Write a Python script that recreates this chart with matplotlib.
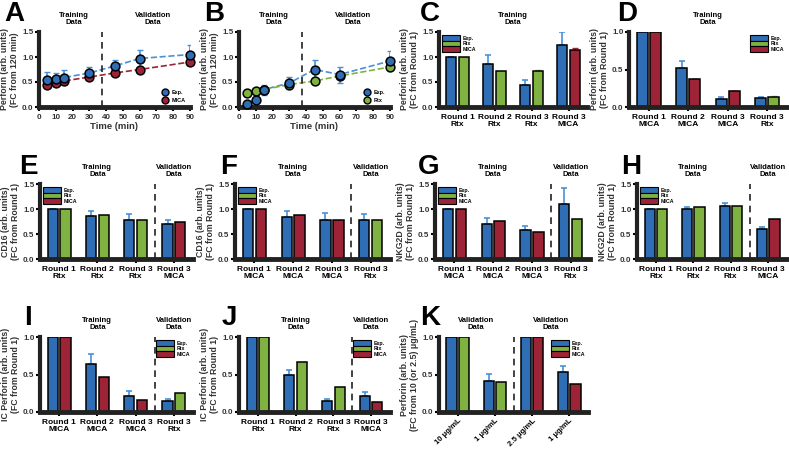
import numpy as np
import matplotlib
matplotlib.use('Agg')
import matplotlib.pyplot as plt
from matplotlib.patches import Patch
from matplotlib.lines import Line2D

plt.rcParams['font.family'] = ['Liberation Sans', 'DejaVu Sans']
plt.rcParams['font.weight'] = 'bold'

BLUE = '#2f6db5'
GREEN = '#7fb241'
RED = '#9d2337'
ERRB = '#4a90d9'
cmap = {'Rtx': GREEN, 'MICA': RED}

# ---------- data ----------
time_pts = [5, 10, 15, 30, 45, 60, 90]
a_exp = [0.55, 0.57, 0.59, 0.68, 0.82, 0.97, 1.05]
a_exp_err = [0.15, 0.12, 0.15, 0.12, 0.13, 0.18, 0.20]
a_mica = [0.45, 0.49, 0.52, 0.60, 0.68, 0.75, 0.90]

b_exp = [0.07, 0.15, 0.35, 0.48, 0.75, 0.65, 0.92]
b_exp_err = [0.0, 0.0, 0.10, 0.12, 0.20, 0.16, 0.20]
b_rtx = [0.28, 0.32, 0.35, 0.45, 0.52, 0.62, 0.80]

c_groups = ['Round 1\nRtx', 'Round 2\nRtx', 'Round 3\nRtx', 'Round 3\nMICA']
c_exp = [1.0, 0.87, 0.45, 1.25]
c_exp_err = [0.0, 0.18, 0.10, 0.25]
c_model = [1.0, 0.73, 0.73, 1.14]
c_model_err = [0.0, 0.0, 0.01, 0.05]
c_stim = ['Rtx', 'Rtx', 'Rtx', 'MICA']

d_groups = ['Round 1\nMICA', 'Round 2\nMICA', 'Round 3\nMICA', 'Round 3\nRtx']
d_exp = [1.0, 0.52, 0.11, 0.12]
d_exp_err = [0.0, 0.10, 0.02, 0.02]
d_model = [1.0, 0.37, 0.21, 0.14]
d_model_err = [0.0, 0.01, 0.01, 0.01]
d_stim = ['MICA', 'MICA', 'MICA', 'Rtx']

e_groups = ['Round 1\nRtx', 'Round 2\nRtx', 'Round 3\nRtx', 'Round 3\nMICA']
e_exp = [1.0, 0.86, 0.79, 0.70]
e_exp_err = [0.0, 0.11, 0.11, 0.09]
e_model = [1.0, 0.89, 0.78, 0.75]
e_stim = ['Rtx', 'Rtx', 'Rtx', 'MICA']

f_groups = ['Round 1\nMICA', 'Round 2\nMICA', 'Round 3\nMICA', 'Round 3\nRtx']
f_exp = [1.0, 0.84, 0.79, 0.79]
f_exp_err = [0.0, 0.13, 0.13, 0.12]
f_model = [1.0, 0.88, 0.78, 0.78]
f_stim = ['MICA', 'MICA', 'MICA', 'Rtx']

g_groups = ['Round 1\nMICA', 'Round 2\nMICA', 'Round 3\nMICA', 'Round 3\nRtx']
g_exp = [1.0, 0.71, 0.59, 1.10]
g_exp_err = [0.0, 0.11, 0.08, 0.32]
g_model = [1.0, 0.76, 0.55, 0.81]
g_stim = ['MICA', 'MICA', 'MICA', 'Rtx']

h_groups = ['Round 1\nRtx', 'Round 2\nRtx', 'Round 3\nRtx', 'Round 3\nMICA']
h_exp = [1.0, 1.0, 1.06, 0.60]
h_exp_err = [0.0, 0.05, 0.07, 0.05]
h_model = [1.0, 1.04, 1.07, 0.81]
h_stim = ['Rtx', 'Rtx', 'Rtx', 'MICA']

i_groups = ['Round 1\nMICA', 'Round 2\nMICA', 'Round 3\nMICA', 'Round 3\nRtx']
i_exp = [1.0, 0.64, 0.22, 0.15]
i_exp_err = [0.0, 0.13, 0.06, 0.03]
i_model = [1.0, 0.47, 0.16, 0.26]
i_stim = ['MICA', 'MICA', 'MICA', 'Rtx']

j_groups = ['Round 1\nRtx', 'Round 2\nRtx', 'Round 3\nRtx', 'Round 3\nMICA']
j_exp = [1.0, 0.49, 0.15, 0.22]
j_exp_err = [0.0, 0.07, 0.03, 0.05]
j_model = [1.0, 0.67, 0.33, 0.14]
j_stim = ['Rtx', 'Rtx', 'Rtx', 'MICA']

k_groups = ['10 μg/mL', '1 μg/mL', '2.5 μg/mL', '1 μg/mL']
k_exp = [1.0, 0.42, 1.0, 0.53]
k_exp_err = [0.0, 0.09, 0.0, 0.08]
k_model = [1.0, 0.40, 1.0, 0.37]
k_stim = ['Rtx', 'Rtx', 'MICA', 'MICA']

W, H = 789, 450
fig = plt.figure(figsize=(W / 100, H / 100), dpi=100)


def px_axes(x0, x1, ytop, ybot):
    return fig.add_axes([x0 / W, 1 - ybot / H, (x1 - x0) / W, (ybot - ytop) / H])


def style(ax, ylim, yticks):
    ax.set_ylim(*ylim)
    ax.set_yticks(yticks)
    ax.set_yticklabels(['%.1f' % t for t in yticks], fontsize=5.8, fontweight='bold', color='#333333')
    for s in ['top', 'right']:
        ax.spines[s].set_visible(False)
    ax.spines['left'].set_linewidth(3)
    ax.spines['bottom'].set_linewidth(3.5)
    ax.spines['left'].set_color('#222222')
    ax.spines['bottom'].set_color('#222222')
    ax.tick_params(axis='y', width=1.5, length=3, pad=1)
    ax.tick_params(axis='x', width=1.5, length=3, pad=2)
    ax.patch.set_alpha(0)


def letter(x, y, s):
    fig.text(x / W, 1 - y / H, s, fontsize=20, fontweight='bold', va='top', ha='left')


def ylab(ax, s):
    ax.set_ylabel(s, fontsize=6.3, fontweight='bold', color='#333333', labelpad=2, linespacing=1.15)


def head(ax, x, s):
    ax.text(x, 1.08, s, transform=ax.get_xaxis_transform(), ha='center', va='bottom',
            fontsize=5.5, fontweight='bold', linespacing=1.0)


def line_panel(ax, exp, err, model, mcol, mname):
    ax.plot(time_pts, exp, '--', color=ERRB, lw=1.2, zorder=1)
    ax.plot(time_pts, model, '--', color=mcol, lw=1.2, zorder=1)
    ax.errorbar(time_pts, exp, yerr=err, fmt='none', ecolor=ERRB, elinewidth=1.2, capsize=2.5, zorder=2)
    ax.scatter(time_pts, exp, s=40, color=BLUE, edgecolor='black', linewidth=1.1, zorder=4, clip_on=False)
    ax.scatter(time_pts, model, s=40, color=mcol, edgecolor='black', linewidth=1.1, zorder=3, clip_on=False)
    ax.set_xlim(0, 90)
    ax.set_xticks(range(0, 100, 10))
    ax.set_xticklabels([str(t) for t in range(0, 100, 10)], fontsize=5.8, fontweight='bold', color='#333333')
    style(ax, (0, 1.5), [0, 0.5, 1.0, 1.5])
    ax.axvline(37.5, color='#222222', ls=(0, (4, 3)), lw=1.2)
    ax.set_xlabel('Time (min)', fontsize=6.8, fontweight='bold', color='#333333', labelpad=1)
    ylab(ax, 'Perforin (arb. units)\n(FC from 120 min)')
    h = [Line2D([], [], marker='o', ls='none', mfc=BLUE, mec='black', ms=5),
         Line2D([], [], marker='o', ls='none', mfc=mcol, mec='black', ms=5)]
    ax.legend(h, ['Exp.', mname], loc='lower right', fontsize=4, frameon=False,
              handletextpad=0.2, borderaxespad=0.4, labelspacing=0.5)
    head(ax, 21, 'Training\nData')
    head(ax, 68, 'Validation\nData')


def bar_panel(ax, groups, exp, err, model, stim, ylim, yticks, label,
              split=None, leg='upper left', heads=('Training\nData', 'Validation\nData'),
              model_err=None, rot=0):
    x = np.arange(len(groups))
    bw = 0.27
    off = 0.165
    ax.bar(x - off, exp, bw, color=BLUE, edgecolor='black', linewidth=1.1, zorder=2)
    ax.errorbar(x - off, exp, yerr=[np.zeros(len(err)), err], fmt='none', ecolor=ERRB,
                elinewidth=1.2, capsize=2.5, capthick=1.2, zorder=1)
    cols = [cmap[s] for s in stim]
    ax.bar(x + off, model, bw, color=cols, edgecolor='black', linewidth=1.1, zorder=2)
    if model_err is not None:
        for xi, m, e, c in zip(x, model, model_err, cols):
            if e > 0:
                ax.errorbar(xi + off, m, yerr=[[0], [e]], fmt='none', ecolor=c,
                            elinewidth=1.1, capsize=2, zorder=1)
    ax.set_xlim(-0.5, len(groups) - 0.5)
    ax.set_xticks(x)
    style(ax, ylim, yticks)
    if rot:
        ax.set_xticklabels(groups, fontsize=5.6, fontweight='bold', rotation=rot, ha='right',
                           rotation_mode='anchor')
        ax.tick_params(axis='x', pad=1)
    else:
        ax.set_xticklabels(groups, fontsize=6.0, fontweight='bold', linespacing=1.0)
    ylab(ax, label)
    h = [Patch(facecolor=BLUE, edgecolor='black', lw=0.8),
         Patch(facecolor=GREEN, edgecolor='black', lw=0.8),
         Patch(facecolor=RED, edgecolor='black', lw=0.8)]
    ax.legend(h, ['Exp.', 'Rtx', 'MICA'], loc=leg, fontsize=3.8, frameon=False,
              handlelength=3.4, handleheight=1.2, handletextpad=0.5, labelspacing=0.0,
              borderaxespad=0.2)
    if split is None:
        head(ax, (len(groups) - 1) / 2, heads[0])
    else:
        ax.axvline(split, color='#222222', ls=(0, (4, 3)), lw=1.2)
        head(ax, (split - 0.5) / 2, heads[0])
        head(ax, (split + len(groups) - 0.5) / 2, heads[1])


# row 1
axA = px_axes(39, 190, 32, 107)
line_panel(axA, a_exp, a_exp_err, a_mica, RED, 'MICA')
axB = px_axes(239, 390, 32, 107)
line_panel(axB, b_exp, b_exp_err, b_rtx, GREEN, 'Rtx')
axC = px_axes(439, 587, 32, 107)
bar_panel(axC, c_groups, c_exp, c_exp_err, c_model, c_stim, (0, 1.5), [0, 0.5, 1.0, 1.5],
          'Perforin (arb. units)\n(FC from Round 1)', model_err=c_model_err)
axD = px_axes(629, 787, 32, 107)
bar_panel(axD, d_groups, d_exp, d_exp_err, d_model, d_stim, (0, 1.0), [0, 0.5, 1.0],
          'Perforin (arb. units)\n(FC from Round 1)', leg='upper right', model_err=d_model_err)

# row 2
rng15 = [0, 0.5, 1.0, 1.5]
axE = px_axes(40, 193, 184, 259)
bar_panel(axE, e_groups, e_exp, e_exp_err, e_model, e_stim, (0, 1.5), rng15,
          'CD16 (arb. units)\n(FC from Round 1)', split=2.5)
axF = px_axes(235, 390, 184, 259)
bar_panel(axF, f_groups, f_exp, f_exp_err, f_model, f_stim, (0, 1.5), rng15,
          'CD16 (arb. units)\n(FC from Round 1)', split=2.5)
axG = px_axes(435, 590, 184, 259)
bar_panel(axG, g_groups, g_exp, g_exp_err, g_model, g_stim, (0, 1.5), rng15,
          'NKG2D (arb. units)\n(FC from Round 1)', split=2.5)
axH = px_axes(637, 787, 184, 259)
bar_panel(axH, h_groups, h_exp, h_exp_err, h_model, h_stim, (0, 1.5), rng15,
          'NKG2D (arb. units)\n(FC from Round 1)', split=2.5)

# row 3
rng10 = [0, 0.5, 1.0]
axI = px_axes(40, 193, 337, 412)
bar_panel(axI, i_groups, i_exp, i_exp_err, i_model, i_stim, (0, 1.0), rng10,
          'IC Perforin (arb. units)\n(FC from Round 1)', split=2.5, leg='upper right')
axJ = px_axes(239, 390, 337, 412)
bar_panel(axJ, j_groups, j_exp, j_exp_err, j_model, j_stim, (0, 1.0), rng10,
          'IC Perforin (arb. units)\n(FC from Round 1)', split=2.5, leg='upper right')
axK = px_axes(439, 588, 337, 412)
bar_panel(axK, k_groups, k_exp, k_exp_err, k_model, k_stim, (0, 1.0), rng10,
          'Perforin (arb. units)\n(FC from 10 (or 2.5) μg/mL)', split=1.5,
          leg='upper right', heads=('Validation\nData', 'Validation\nData'), rot=45)

letter(4, 1, 'A')
letter(204, 1, 'B')
letter(420, 1, 'C')
letter(617, 1, 'D')
letter(19, 154, 'E')
letter(220, 154, 'F')
letter(418, 154, 'G')
letter(621, 154, 'H')
letter(24, 305, 'I')
letter(222, 305, 'J')
letter(420, 305, 'K')

fig.savefig('out.png', dpi=100)
